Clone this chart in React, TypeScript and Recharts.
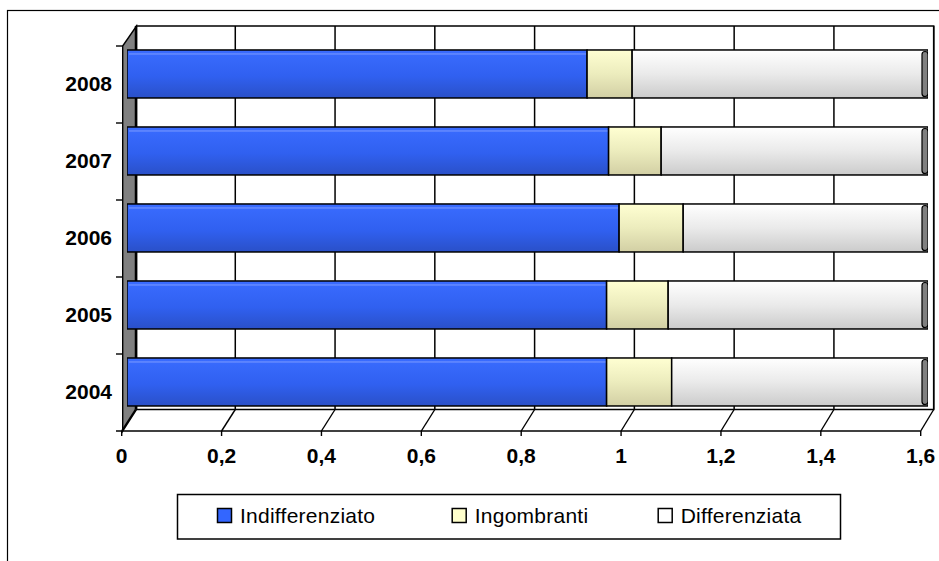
import React from 'react';
import { BarChart, Bar, XAxis, YAxis, CartesianGrid } from 'recharts';

const years = ['2004', '2005', '2006', '2007', '2008'];
const indifferenziato = [0.958, 0.958, 0.983, 0.962, 0.919];
const ingombranti = [0.13, 0.123, 0.128, 0.105, 0.09];
const differenziata = [0.512, 0.519, 0.489, 0.533, 0.591];
const xTicks = [0, 0.2, 0.4, 0.6, 0.8, 1, 1.2, 1.4, 1.6];
const seriesNames = ['Indifferenziato', 'Ingombranti', 'Differenziata'];
const seriesColors = ['#3366ff', '#ffffcc', '#ffffff'];

const data = years.map((y, i) => ({
  year: y,
  Indifferenziato: indifferenziato[i],
  Ingombranti: ingombranti[i],
  Differenziata: differenziata[i],
}));

const W = 939;
const H = 561;
const FONT = '"Liberation Sans", Arial, sans-serif';

// 3D frame geometry
const BAR_X0 = 128;
const FRONT_X0 = 122.7;
const BACK_X0 = 136.5;
const BACK_TOP = 26;
const BACK_BOTTOM = 409.5;
const FRONT_TOP = 46;
const FRONT_BOTTOM = 431;
const BACK_RIGHT = 933.7;
const FRONT_RIGHT = 920.7;
const frontX = (x: number) => FRONT_X0 + (x - BAR_X0) * 0.9975;
const backX = (x: number) => BACK_X0 + (x - BAR_X0) * 0.9965;

const fmt = (v: number) => String(v).replace('.', ',');

const Segment = (props: any) => {
  const { x, y, width, height, kind } = props;
  if (width == null || height == null) return null;
  return (
    <g>
      <rect x={x} y={y} width={width} height={height} fill={`url(#grad-${kind})`} stroke="#000" strokeWidth={1.5} />
      {kind === 0 && (
        <line x1={x + 2} y1={y + 4} x2={x + width - 1} y2={y + 4} stroke="#7d9bff" strokeWidth={1} />
      )}
      {kind === 2 && (
        <rect x={x + width - 6} y={y + 1.5} width={6} height={height - 3} rx={3} fill="#808080" stroke="#000" strokeWidth={1.2} />
      )}
    </g>
  );
};

const XTick = (props: any) => {
  const { x, payload } = props;
  const fx = frontX(x);
  const bx = backX(x);
  return (
    <g>
      <line x1={bx} y1={BACK_BOTTOM} x2={fx} y2={FRONT_BOTTOM} stroke="#000" strokeWidth={1.4} />
      <line x1={fx} y1={FRONT_BOTTOM} x2={fx} y2={FRONT_BOTTOM + 5} stroke="#000" strokeWidth={1.4} />
      <text x={fx} y={463} textAnchor="middle" fontFamily={FONT} fontWeight="bold" fontSize={21} fill="#000">
        {fmt(payload.value)}
      </text>
    </g>
  );
};

const YTick = (props: any) => {
  const { y, payload } = props;
  return (
    <g>
      <line x1={116} y1={y - 28} x2={FRONT_X0} y2={y - 28} stroke="#000" strokeWidth={1.4} />
      <text x={112} y={y + 17} textAnchor="end" fontFamily={FONT} fontWeight="bold" fontSize={21} fill="#000">
        {payload.value}
      </text>
    </g>
  );
};

const gridLine = (props: any) => {
  const bx = backX(props.x1);
  return <line key={`g-${props.index}`} x1={bx} y1={BACK_TOP} x2={bx} y2={BACK_BOTTOM} stroke="#000" strokeWidth={1.5} />;
};

const legendSquares = [217.5, 452.2, 658.2];

export default function App() {
  return (
    <div style={{ position: 'absolute', left: 0, top: 0, width: W, height: H, overflow: 'hidden', background: '#fff', fontFamily: FONT }}>
      <svg width={W} height={H} style={{ position: 'absolute', left: 0, top: 0 }}>
        <rect x={7.5} y={10.5} width={1200} height={800} fill="#fff" stroke="#000" strokeWidth={1.2} />
        <rect x={BACK_X0} y={BACK_TOP} width={BACK_RIGHT - BACK_X0} height={BACK_BOTTOM - BACK_TOP} fill="#fff" stroke="#000" strokeWidth={1.5} />
        <polygon
          points={`${FRONT_X0},${FRONT_TOP} ${BACK_X0},${BACK_TOP} ${BACK_X0},${BACK_BOTTOM} ${FRONT_X0},${FRONT_BOTTOM}`}
          fill="#808080"
          stroke="#000"
          strokeWidth={1.4}
        />
        <line x1={116} y1={FRONT_BOTTOM} x2={FRONT_RIGHT} y2={FRONT_BOTTOM} stroke="#000" strokeWidth={1.6} />
      </svg>
      <div style={{ position: 'absolute', left: 0, top: 0 }}>
        <BarChart
          width={W}
          height={H}
          data={data}
          layout="vertical"
          margin={{ top: 35.5, right: 11, bottom: 110.5, left: 67 }}
          barCategoryGap="18.8%"
        >
          <defs>
            <linearGradient id="grad-0" x1="0" y1="0" x2="0" y2="1">
              <stop offset="0%" stopColor="#3a6cff" />
              <stop offset="55%" stopColor="#3060f0" />
              <stop offset="100%" stopColor="#2a50c8" />
            </linearGradient>
            <linearGradient id="grad-1" x1="0" y1="0" x2="0" y2="1">
              <stop offset="0%" stopColor="#ffffd2" />
              <stop offset="50%" stopColor="#ececbd" />
              <stop offset="100%" stopColor="#d2cfa4" />
            </linearGradient>
            <linearGradient id="grad-2" x1="0" y1="0" x2="0" y2="1">
              <stop offset="0%" stopColor="#ffffff" />
              <stop offset="50%" stopColor="#eaeaea" />
              <stop offset="100%" stopColor="#cbcbcb" />
            </linearGradient>
          </defs>
          <CartesianGrid horizontal={false} vertical={gridLine} />
          <XAxis
            type="number"
            domain={[0, 1.6]}
            ticks={xTicks}
            allowDataOverflow
            axisLine={false}
            tickLine={false}
            height={30}
            tick={<XTick />}
            interval={0}
          />
          <YAxis
            type="category"
            dataKey="year"
            reversed
            width={60}
            axisLine={false}
            tickLine={false}
            tick={<YTick />}
            interval={0}
          />
          <Bar dataKey="Indifferenziato" stackId="a" fill={seriesColors[0]} isAnimationActive={false} shape={(p: any) => <Segment {...p} kind={0} />} />
          <Bar dataKey="Ingombranti" stackId="a" fill={seriesColors[1]} isAnimationActive={false} shape={(p: any) => <Segment {...p} kind={1} />} />
          <Bar dataKey="Differenziata" stackId="a" fill={seriesColors[2]} isAnimationActive={false} shape={(p: any) => <Segment {...p} kind={2} />} />
        </BarChart>
      </div>
      <svg width={W} height={H} style={{ position: 'absolute', left: 0, top: 0, pointerEvents: 'none' }}>
        <rect x={177.5} y={494.5} width={663} height={44.5} fill="#fff" stroke="#000" strokeWidth={1.5} />
        {seriesNames.map((name, i) => (
          <g key={name}>
            <rect x={legendSquares[i]} y={508.5} width={14} height={14} fill={seriesColors[i]} stroke="#000" strokeWidth={1.5} />
            <text x={legendSquares[i] + 22.5} y={523} fontFamily={FONT} fontSize={21} letterSpacing={0.25} fill="#000">
              {name}
            </text>
          </g>
        ))}
      </svg>
    </div>
  );
}
